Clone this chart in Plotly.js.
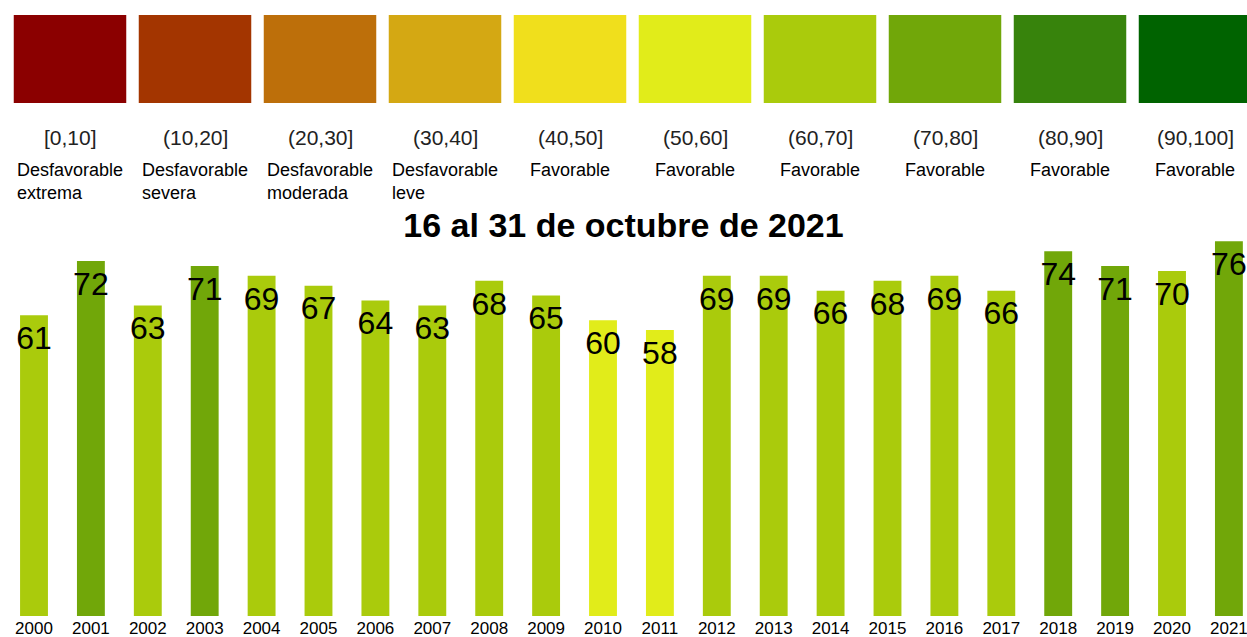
<!DOCTYPE html>
<html>
<head>
<meta charset="utf-8">
<script src="https://cdn.plot.ly/plotly-3.0.1.min.js"></script>
<style>html,body{margin:0;padding:0;background:#fff;}#chart{width:1247px;height:637px;}</style>
</head>
<body>
<div id="chart"></div>
<script>
// ---- data ----
var years = ["2000","2001","2002","2003","2004","2005","2006","2007","2008","2009","2010",
             "2011","2012","2013","2014","2015","2016","2017","2018","2019","2020","2021"];
var values = [61,72,63,71,69,67,64,63,68,65,60,58,69,69,66,68,69,66,74,71,70,76];

var classRanges = ["[0,10]","(10,20]","(20,30]","(30,40]","(40,50]","(50,60]","(60,70]","(70,80]","(80,90]","(90,100]"];
var classNames = ["Desfavorable<br>extrema","Desfavorable<br>severa","Desfavorable<br>moderada","Desfavorable<br>leve",
                  "Favorable","Favorable","Favorable","Favorable","Favorable","Favorable"];
var classColors = ["#8B0000","#A33500","#BD6F0A","#D4A813","#F0DF1C","#E1EC1A","#AACB0C","#71A709","#37830C","#006300"];
var classUpper = [10,20,30,40,50,60,70,80,90,100];
var title = "16 al 31 de octubre de 2021";

function colorFor(v){
  for (var i=0;i<classUpper.length;i++){ if (v<=classUpper[i]) return classColors[i]; }
  return classColors[classColors.length-1];
}
var barColors = values.map(colorFor);
var idx = classRanges.map(function(_,i){return i;});

var FONT = "Liberation Sans, Arial, sans-serif";

var traces = [
  {
    type:"bar", x:years, y:values, marker:{color:barColors},
    width:0.49, hoverinfo:"skip"
  },
  {
    type:"scatter", mode:"markers+text", x:years, y:values,
    marker:{size:14, opacity:0, color:"#000"},
    text:values.map(String), textposition:"bottom center",
    textfont:{family:FONT, size:32, color:"#000"},
    hoverinfo:"skip", cliponaxis:false
  },
  {
    type:"bar", x:idx, y:classColors.map(function(){return 1;}), xaxis:"x2", yaxis:"y2",
    width:0.9, marker:{color:classColors}, hoverinfo:"skip"
  }
];

var annotations = [];
for (var i=0;i<classRanges.length;i++){
  annotations.push({xref:"x2", yref:"paper", x:i, y:0.776, yanchor:"middle", xanchor:"center",
    text:classRanges[i], showarrow:false, font:{family:FONT, size:21, color:"#222"}});
  annotations.push({xref:"x2", yref:"paper", x:i, y:0.744, yanchor:"top", xanchor:"center", align:"left",
    text:classNames[i], showarrow:false, font:{family:FONT, size:18, color:"#000"}});
}

var layout = {
  width:1247, height:637,
  margin:{l:0, r:0, t:0, b:21, pad:0},
  paper_bgcolor:"#fff", plot_bgcolor:"#fff",
  showlegend:false,
  font:{family:FONT, color:"#000"},
  title:{text:"<b>"+title+"</b>", x:0.5, xanchor:"center", y:1-225/637, yanchor:"middle", yref:"container",
         font:{family:FONT, size:34, color:"#000"}},
  xaxis:{type:"category", range:[-0.5975, 21.318], domain:[0,1], showgrid:false, zeroline:false,
         showline:false, ticks:"", tickfont:{family:FONT, size:17, color:"#000"}},
  yaxis:{range:[0,78], domain:[0,0.6242], showgrid:false, zeroline:false, showticklabels:false, showline:false},
  xaxis2:{anchor:"y2", range:[-0.56, 9.416], domain:[0,1], showgrid:false, zeroline:false,
          showticklabels:false, showline:false, ticks:""},
  yaxis2:{anchor:"x2", range:[0,1], domain:[0.8328,0.9756], showgrid:false, zeroline:false,
          showticklabels:false, showline:false},
  annotations:annotations
};

Plotly.newPlot("chart", traces, layout, {displayModeBar:false, staticPlot:true});
</script>
</body>
</html>
